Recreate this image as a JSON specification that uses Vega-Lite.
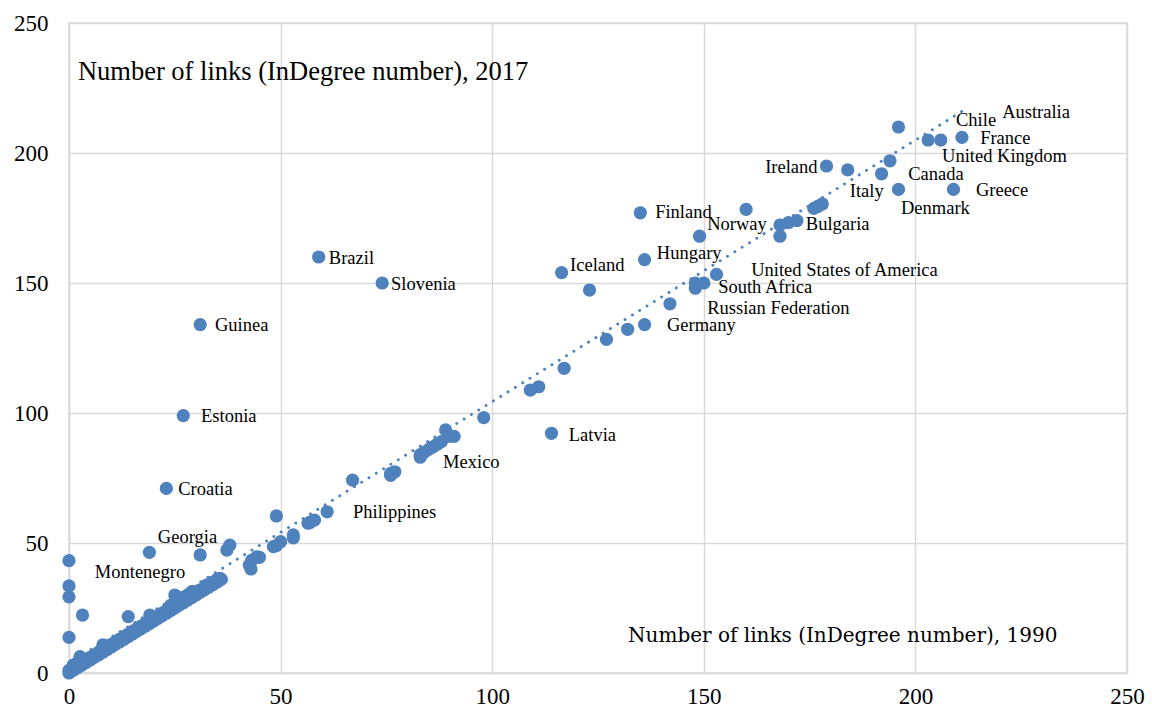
{
  "$schema": "https://vega.github.io/schema/vega-lite/v6.json",
  "width": 1058,
  "height": 650,
  "autosize": "none",
  "padding": {"left": 69, "top": 23, "right": 25, "bottom": 39},
  "background": "white",
  "config": {
    "view": {"stroke": "#d9d9d9", "strokeWidth": 1.5},
    "axis": {
      "grid": true, "gridColor": "#d9d9d9", "gridWidth": 1.5,
      "domainColor": "#d9d9d9", "domainWidth": 1.5,
      "ticks": false, "tickSize": 0,
      "labelFont": "Liberation Serif", "labelFontSize": 23, "labelColor": "#000000",
      "title": null
    }
  },
  "datasets": {
    "points": [
      {"country": "Australia", "x": 196, "y": 210},
      {"country": "Chile", "x": 203, "y": 205},
      {"country": "United Kingdom", "x": 206, "y": 205},
      {"country": "France", "x": 211, "y": 206},
      {"country": "Canada", "x": 194, "y": 197},
      {"country": "Italy", "x": 192, "y": 192},
      {"country": "Denmark", "x": 196, "y": 186},
      {"country": "Greece", "x": 209, "y": 186},
      {"country": "Ireland", "x": 179, "y": 195},
      {"country": "", "x": 184, "y": 193.5},
      {"country": "", "x": 178, "y": 180.4},
      {"country": "", "x": 177, "y": 179.5},
      {"country": "", "x": 176, "y": 178.7},
      {"country": "Bulgaria", "x": 172, "y": 174},
      {"country": "", "x": 170, "y": 173.2},
      {"country": "", "x": 168, "y": 172.3},
      {"country": "", "x": 168, "y": 168},
      {"country": "", "x": 160, "y": 178.3},
      {"country": "Finland", "x": 135, "y": 177},
      {"country": "Norway", "x": 149, "y": 168},
      {"country": "Hungary", "x": 136, "y": 159},
      {"country": "Iceland", "x": 116.4, "y": 154},
      {"country": "", "x": 123, "y": 147.3},
      {"country": "United States of America", "x": 153, "y": 153.3},
      {"country": "South Africa", "x": 150, "y": 150},
      {"country": "", "x": 148, "y": 148},
      {"country": "", "x": 148, "y": 150},
      {"country": "Russian Federation", "x": 142, "y": 142},
      {"country": "Germany", "x": 136, "y": 134},
      {"country": "", "x": 132, "y": 132.2},
      {"country": "", "x": 127, "y": 128.3},
      {"country": "", "x": 117, "y": 117.2},
      {"country": "", "x": 111, "y": 110.1},
      {"country": "", "x": 109, "y": 108.8},
      {"country": "", "x": 98, "y": 98.2},
      {"country": "Latvia", "x": 114, "y": 92.2},
      {"country": "", "x": 89, "y": 93.5},
      {"country": "", "x": 90, "y": 91},
      {"country": "", "x": 91, "y": 91},
      {"country": "", "x": 88, "y": 89},
      {"country": "", "x": 87, "y": 88},
      {"country": "", "x": 86, "y": 87},
      {"country": "Mexico", "x": 85, "y": 86},
      {"country": "", "x": 84, "y": 85},
      {"country": "", "x": 83, "y": 84},
      {"country": "", "x": 83, "y": 83},
      {"country": "", "x": 77, "y": 77.4},
      {"country": "", "x": 76, "y": 76.8},
      {"country": "", "x": 76, "y": 76},
      {"country": "", "x": 67, "y": 74.2},
      {"country": "Philippines", "x": 61, "y": 62},
      {"country": "", "x": 57, "y": 58},
      {"country": "", "x": 58, "y": 58.8},
      {"country": "", "x": 56.5, "y": 57.6},
      {"country": "", "x": 49, "y": 60.4},
      {"country": "", "x": 53, "y": 53.1},
      {"country": "", "x": 53, "y": 52},
      {"country": "", "x": 50, "y": 50.5},
      {"country": "", "x": 48.3, "y": 48.6},
      {"country": "", "x": 49, "y": 49},
      {"country": "", "x": 45, "y": 44.5},
      {"country": "", "x": 44.4, "y": 44.7},
      {"country": "", "x": 43.2, "y": 43.4},
      {"country": "", "x": 42.6, "y": 41.5},
      {"country": "", "x": 43, "y": 40},
      {"country": "", "x": 38, "y": 49.2},
      {"country": "", "x": 37.3, "y": 47.3},
      {"country": "Georgia", "x": 31, "y": 45.4},
      {"country": "Montenegro", "x": 19, "y": 46.4},
      {"country": "Brazil", "x": 59, "y": 160},
      {"country": "Slovenia", "x": 74, "y": 150},
      {"country": "Guinea", "x": 31, "y": 134},
      {"country": "Estonia", "x": 27, "y": 99},
      {"country": "Croatia", "x": 23, "y": 71},
      {"country": "", "x": 0, "y": 43.2},
      {"country": "", "x": 0, "y": 33.5},
      {"country": "", "x": 0, "y": 29.3},
      {"country": "", "x": 0, "y": 13.7},
      {"country": "", "x": 3.2, "y": 22.3},
      {"country": "", "x": 14, "y": 21.7},
      {"country": "", "x": 0, "y": 0}, {"country": "", "x": 0, "y": 1},
      {"country": "", "x": 1, "y": 1}, {"country": "", "x": 1, "y": 2}, {"country": "", "x": 1, "y": 3},
      {"country": "", "x": 2, "y": 2}, {"country": "", "x": 2, "y": 4},
      {"country": "", "x": 2.6, "y": 6.3},
      {"country": "", "x": 3, "y": 3}, {"country": "", "x": 3, "y": 5},
      {"country": "", "x": 4, "y": 4}, {"country": "", "x": 4, "y": 5},
      {"country": "", "x": 5, "y": 5}, {"country": "", "x": 5, "y": 6},
      {"country": "", "x": 6, "y": 6}, {"country": "", "x": 6, "y": 7},
      {"country": "", "x": 7, "y": 7}, {"country": "", "x": 7, "y": 8},
      {"country": "", "x": 8, "y": 8}, {"country": "", "x": 8, "y": 10.8},
      {"country": "", "x": 9, "y": 9}, {"country": "", "x": 9, "y": 10},
      {"country": "", "x": 10, "y": 10}, {"country": "", "x": 10, "y": 11},
      {"country": "", "x": 11, "y": 11}, {"country": "", "x": 11, "y": 12},
      {"country": "", "x": 12, "y": 12}, {"country": "", "x": 12, "y": 13},
      {"country": "", "x": 13, "y": 13}, {"country": "", "x": 13, "y": 14},
      {"country": "", "x": 14, "y": 14}, {"country": "", "x": 14, "y": 15},
      {"country": "", "x": 15, "y": 15}, {"country": "", "x": 15, "y": 16},
      {"country": "", "x": 16, "y": 16}, {"country": "", "x": 16, "y": 17},
      {"country": "", "x": 17, "y": 17}, {"country": "", "x": 17, "y": 18},
      {"country": "", "x": 18, "y": 18}, {"country": "", "x": 18, "y": 19},
      {"country": "", "x": 19, "y": 19}, {"country": "", "x": 19, "y": 20},
      {"country": "", "x": 19.1, "y": 22.3},
      {"country": "", "x": 20, "y": 20}, {"country": "", "x": 20, "y": 21},
      {"country": "", "x": 21, "y": 21}, {"country": "", "x": 21, "y": 22},
      {"country": "", "x": 22, "y": 22}, {"country": "", "x": 22, "y": 23},
      {"country": "", "x": 23, "y": 23}, {"country": "", "x": 23, "y": 24},
      {"country": "", "x": 24, "y": 24}, {"country": "", "x": 24, "y": 26},
      {"country": "", "x": 25, "y": 25}, {"country": "", "x": 25, "y": 30},
      {"country": "", "x": 26, "y": 26}, {"country": "", "x": 26, "y": 29},
      {"country": "", "x": 27, "y": 27}, {"country": "", "x": 27, "y": 29},
      {"country": "", "x": 28, "y": 28}, {"country": "", "x": 28, "y": 30},
      {"country": "", "x": 29, "y": 29}, {"country": "", "x": 29, "y": 31.3},
      {"country": "", "x": 30, "y": 30}, {"country": "", "x": 30, "y": 31},
      {"country": "", "x": 31, "y": 31}, {"country": "", "x": 31, "y": 32},
      {"country": "", "x": 32, "y": 32}, {"country": "", "x": 32.5, "y": 33.8},
      {"country": "", "x": 33, "y": 33}, {"country": "", "x": 33, "y": 34},
      {"country": "", "x": 34, "y": 34}, {"country": "", "x": 34, "y": 35},
      {"country": "", "x": 35, "y": 35}, {"country": "", "x": 35, "y": 36},
      {"country": "", "x": 35.7, "y": 36.4}, {"country": "", "x": 36, "y": 36}
    ],
    "trend": [
      {"x": 0, "y": 3.8},
      {"x": 211, "y": 216}
    ],
    "labels": [
      {"text": "Australia", "x": 220.5, "y": 215.8},
      {"text": "Chile", "x": 209.6, "y": 212.7},
      {"text": "France", "x": 215.3, "y": 205.8},
      {"text": "United Kingdom", "x": 206.3, "y": 198.8},
      {"text": "Canada", "x": 198.3, "y": 191.9},
      {"text": "Italy", "x": 184.5, "y": 185.4},
      {"text": "Greece", "x": 214.3, "y": 185.8},
      {"text": "Denmark", "x": 196.6, "y": 178.8},
      {"text": "Ireland", "x": 164.5, "y": 194.6},
      {"text": "Bulgaria", "x": 174.1, "y": 172.7},
      {"text": "Norway", "x": 150.8, "y": 172.7},
      {"text": "Finland", "x": 138.5, "y": 177.3},
      {"text": "Hungary", "x": 138.9, "y": 161.5},
      {"text": "Iceland", "x": 118.4, "y": 156.9},
      {"text": "United States of America", "x": 161.2, "y": 155.1},
      {"text": "South Africa", "x": 153.4, "y": 148.5},
      {"text": "Russian Federation", "x": 150.8, "y": 140.4},
      {"text": "Germany", "x": 141.3, "y": 133.8},
      {"text": "Brazil", "x": 61.4, "y": 159.6},
      {"text": "Slovenia", "x": 76.1, "y": 149.6},
      {"text": "Guinea", "x": 34.5, "y": 133.8},
      {"text": "Estonia", "x": 31.2, "y": 98.8},
      {"text": "Croatia", "x": 25.8, "y": 70.8},
      {"text": "Latvia", "x": 118.1, "y": 91.5},
      {"text": "Mexico", "x": 88.4, "y": 81.2},
      {"text": "Philippines", "x": 67.1, "y": 61.9},
      {"text": "Georgia", "x": 21, "y": 52.3},
      {"text": "Montenegro", "x": 6.1, "y": 38.8}
    ],
    "ytitle": [{"text": "Number of links (InDegree number), 2017", "x": 2.1, "y": 231}],
    "xtitle": [{"text": "Number of links (InDegree number), 1990", "x": 132.1, "y": 14.2}]
  },
  "layer": [
    {
      "data": {"name": "points"},
      "mark": {"type": "circle", "size": 175, "color": "#4F81BD", "opacity": 1},
      "encoding": {
        "x": {"field": "x", "type": "quantitative",
              "scale": {"domain": [0, 250], "nice": false},
              "axis": {"values": [0, 50, 100, 150, 200, 250], "labelPadding": 12, "labelFlush": false}},
        "y": {"field": "y", "type": "quantitative",
              "scale": {"domain": [0, 250], "nice": false},
              "axis": {"values": [0, 50, 100, 150, 200, 250], "labelPadding": 21, "labelFlush": false}}
      }
    },
    {
      "data": {"name": "trend"},
      "mark": {"type": "line", "color": "#4F81BD", "strokeWidth": 2.9, "strokeDash": [0.1, 8.5], "strokeCap": "round"},
      "encoding": {
        "x": {"field": "x", "type": "quantitative"},
        "y": {"field": "y", "type": "quantitative"}
      }
    },
    {
      "data": {"name": "labels"},
      "mark": {"type": "text", "align": "left", "baseline": "middle", "font": "Liberation Serif", "fontSize": 18.5, "color": "#000000"},
      "encoding": {
        "x": {"field": "x", "type": "quantitative"},
        "y": {"field": "y", "type": "quantitative"},
        "text": {"field": "text"}
      }
    },
    {
      "data": {"name": "ytitle"},
      "mark": {"type": "text", "align": "left", "baseline": "middle", "font": "Liberation Serif", "fontSize": 26.5, "color": "#000000"},
      "encoding": {
        "x": {"field": "x", "type": "quantitative"},
        "y": {"field": "y", "type": "quantitative"},
        "text": {"field": "text"}
      }
    },
    {
      "data": {"name": "xtitle"},
      "mark": {"type": "text", "align": "left", "baseline": "middle", "font": "DejaVu Serif", "fontSize": 20, "color": "#000000"},
      "encoding": {
        "x": {"field": "x", "type": "quantitative"},
        "y": {"field": "y", "type": "quantitative"},
        "text": {"field": "text"}
      }
    }
  ]
}
